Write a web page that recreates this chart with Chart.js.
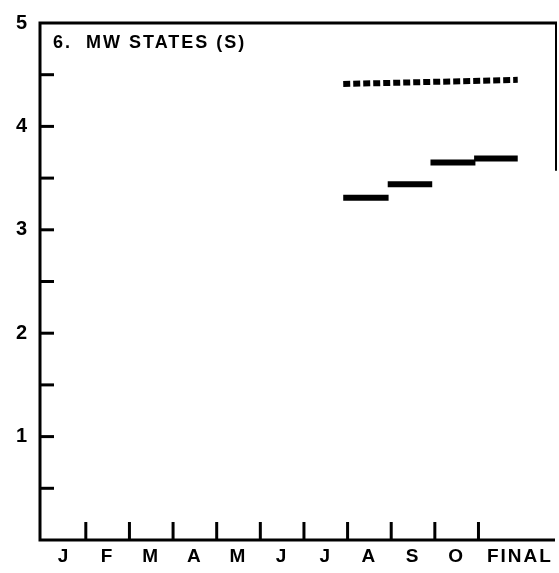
<!DOCTYPE html>
<html>
<head>
<meta charset="utf-8">
<script src="https://cdn.jsdelivr.net/npm/chart.js@4/dist/chart.umd.min.js"></script>
<style>
    body { margin: 0; background: #fff; }
    #wrap { width: 559px; height: 573px; }
</style>
</head>
<body>
<div id="wrap"><canvas id="chart" width="559" height="573"></canvas></div>
<script>
// 月份标签及其位置
var monthLabels = ['J', 'F', 'M', 'A', 'M', 'J', 'J', 'A', 'S', 'O', 'FINAL'];
var labelPos = [0.5, 1.5, 2.5, 3.5, 4.5, 5.5, 6.5, 7.5, 8.5, 9.5, 10.95];
var xTickMarks = [1, 2, 3, 4, 5, 6, 7, 8, 9, 10];
var yTickMarks = [0.5, 1, 1.5, 2, 2.5, 3, 3.5, 4, 4.5];

// 实线段：A, S, O, FINAL
var segStart = [6.9, 7.92, 8.9, 9.9];
var segEnd = [7.94, 8.94, 9.93, 10.9];
var solidValues = [3.31, 3.44, 3.65, 3.69];

// 虚线（目标）
var dotX = [6.9, 10.9];
var dotY = [4.41, 4.45];

var titleText = '6.  MW STATES (S)';

var datasets = [];
for (var i = 0; i < solidValues.length; i++) {
    datasets.push({
        data: [{ x: segStart[i], y: solidValues[i] }, { x: segEnd[i], y: solidValues[i] }],
        showLine: true,
        borderColor: '#000',
        borderWidth: 6,
        borderCapStyle: 'butt',
        pointRadius: 0
    });
}
datasets.push({
    data: [{ x: dotX[0], y: dotY[0] }, { x: dotX[1], y: dotY[1] }],
    showLine: true,
    borderColor: '#000',
    borderWidth: 6,
    borderDash: [7, 3],
    borderCapStyle: 'butt',
    pointRadius: 0
});

// 坐标轴、刻度和标题
var frame = {
    id: 'frame',
    beforeDraw: function (chart) {
        chart.ctx.letterSpacing = '2px';
    },
    afterDraw: function (chart) {
        var ctx = chart.ctx, a = chart.chartArea, xs = chart.scales.x, ys = chart.scales.y;
        ctx.save();
        ctx.strokeStyle = '#000';
        ctx.lineWidth = 3;
        ctx.beginPath();
        ctx.moveTo(a.right, a.top);
        ctx.lineTo(a.left, a.top);
        ctx.lineTo(a.left, a.bottom);
        ctx.lineTo(a.right - 2, a.bottom);
        ctx.stroke();
        // 右边框只画上半段
        ctx.lineWidth = 2;
        ctx.beginPath();
        ctx.moveTo(a.right - 1, a.top);
        ctx.lineTo(a.right - 1, ys.getPixelForValue(3.57));
        ctx.stroke();
        ctx.lineWidth = 3;
        yTickMarks.forEach(function (v) {
            var y = ys.getPixelForValue(v);
            ctx.beginPath();
            ctx.moveTo(a.left, y);
            ctx.lineTo(a.left + 14, y);
            ctx.stroke();
        });
        xTickMarks.forEach(function (v) {
            var x = xs.getPixelForValue(v);
            ctx.beginPath();
            ctx.moveTo(x, a.bottom);
            ctx.lineTo(x, a.bottom - 18);
            ctx.stroke();
        });
        ctx.fillStyle = '#000';
        ctx.font = 'bold 18px "Liberation Sans"';
        ctx.letterSpacing = '2px';
        ctx.textBaseline = 'alphabetic';
        ctx.fillText(titleText, a.left + 13, a.top + 25);
        ctx.restore();
    }
};

var chart = new Chart(document.getElementById('chart'), {
    type: 'scatter',
    data: { datasets: datasets },
    options: {
        responsive: false,
        animation: false,
        layout: { padding: { top: 15, right: 2, left: 0, bottom: 0 } },
        plugins: { legend: { display: false }, tooltip: { enabled: false } },
        scales: {
            x: {
                type: 'linear',
                min: -0.05,
                max: 11.8,
                grid: { display: false, drawTicks: false },
                border: { display: false },
                afterBuildTicks: function (scale) {
                    scale.ticks = labelPos.map(function (v) { return { value: v }; });
                },
                afterFit: function (scale) { scale.height = 33; },
                ticks: {
                    autoSkip: false,
                    maxRotation: 0,
                    padding: 5,
                    color: '#000',
                    font: { family: 'Liberation Sans', size: 19, weight: 'bold' },
                    callback: function (v, i) { return monthLabels[i]; }
                }
            },
            y: {
                min: 0,
                max: 5,
                grid: { display: false, drawTicks: false },
                border: { display: false },
                afterFit: function (scale) { scale.width = 40; },
                ticks: {
                    stepSize: 1,
                    padding: 11,
                    color: '#000',
                    font: { family: 'Liberation Sans', size: 20, weight: 'bold' },
                    callback: function (v) { return v === 0 ? '' : v; }
                }
            }
        }
    },
    plugins: [frame]
});
</script>
</body>
</html>
